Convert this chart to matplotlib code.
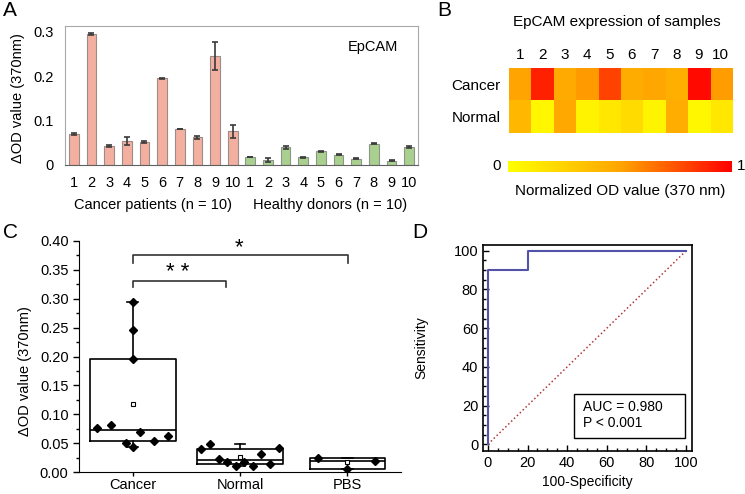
import numpy as np
import matplotlib
matplotlib.use('Agg')
import matplotlib.pyplot as plt
from matplotlib.colors import LinearSegmentedColormap
from matplotlib.patches import Rectangle
from matplotlib.ticker import MultipleLocator, FormatStrFormatter
import matplotlib.transforms as mtransforms

plt.rcParams['font.family'] = ['Liberation Sans', 'DejaVu Sans']

# ---------------- data ----------------
sample_labels = ['1', '2', '3', '4', '5', '6', '7', '8', '9', '10']
cancer_od = [0.069, 0.295, 0.043, 0.053, 0.051, 0.195, 0.081, 0.062, 0.246, 0.076]
cancer_err = [0.002, 0.003, 0.002, 0.009, 0.002, 0.001, 0.001, 0.003, 0.032, 0.015]
healthy_od = [0.018, 0.011, 0.040, 0.017, 0.031, 0.023, 0.014, 0.048, 0.010, 0.041]
healthy_err = [0.001, 0.004, 0.003, 0.001, 0.001, 0.001, 0.001, 0.001, 0.001, 0.002]
pbs_od = [0.025, 0.006, 0.019]

heat_rows = ['Cancer', 'Normal']
heat_cancer = [0.50, 0.90, 0.47, 0.53, 0.80, 0.46, 0.49, 0.44, 0.97, 0.52]
heat_normal = [0.40, 0.05, 0.48, 0.07, 0.13, 0.20, 0.06, 0.45, 0.04, 0.13]

box_groups = ['Cancer', 'Normal', 'PBS']
cancer_jitter = [0.066, 0, 0, 0.2, -0.066, 0, -0.2, 0.33, 0, -0.33]
healthy_jitter = [0.04, -0.04, -0.36, -0.12, 0.2, -0.2, 0.28, -0.28, 0.12, 0.36]
pbs_jitter = [-0.27, 0, 0.26]

roc_fpr = [0, 0, 20, 20, 100]
roc_tpr = [0, 90, 90, 100, 100]
auc_text = 'AUC = 0.980'
p_text = 'P < 0.001'

# ---------------- figure ----------------
W, H = 745, 494
fig = plt.figure(figsize=(W / 100, H / 100), dpi=100)


def px_axes(x0, y0, x1, y1):
    return fig.add_axes([x0 / W, 1 - y1 / H, (x1 - x0) / W, (y1 - y0) / H])


def ftext(x, y, s, **kw):
    fig.text(x / W, 1 - y / H, s, **kw)


# ---------------- Panel A ----------------
axA = px_axes(65, 26, 418, 165)
n = len(cancer_od)
xc = np.arange(n)
xh = np.arange(n, 2 * n)
ekw = dict(ecolor='#3a3a3a', elinewidth=1.2, capsize=2, capthick=1.2)
axA.bar(xc, cancer_od, 0.55, yerr=cancer_err, color='#F3B0A0',
        edgecolor='#9b8c88', linewidth=0.8, error_kw=ekw)
axA.bar(xh, healthy_od, 0.55, yerr=healthy_err, color='#A9D08E',
        edgecolor='#8c958a', linewidth=0.8, error_kw=ekw)
axA.set_xlim(-0.5, 2 * n - 0.5)
axA.set_ylim(0, 0.313)
axA.set_xticks(np.r_[xc, xh])
axA.set_xticklabels(sample_labels * 2)
axA.set_yticks([0, 0.1, 0.2, 0.3])
axA.set_yticklabels(['0', '0.1', '0.2', '0.3'])
axA.tick_params(axis='x', length=0, labelsize=10.5, pad=8)
axA.tick_params(axis='y', length=0, labelsize=10.5, pad=8)
for s in ['top', 'right', 'left']:
    axA.spines[s].set_color('#a8a8a8')
axA.spines['bottom'].set_color('#606060')
axA.set_ylabel('ΔOD value (370nm)', fontsize=10.5)
axA.yaxis.set_label_coords(-0.113, 0.48)
trA = mtransforms.blended_transform_factory(axA.transData, axA.transAxes)
axA.text(np.mean(xc), -0.29, 'Cancer patients (n = 10)', transform=trA,
         ha='center', va='center', fontsize=10.5)
axA.text(np.mean(xh), -0.29, 'Healthy donors (n = 10)', transform=trA,
         ha='center', va='center', fontsize=10.5)
axA.text(0.873, 0.85, 'EpCAM', transform=axA.transAxes, ha='center',
         va='center', fontsize=10.5)

# ---------------- Panel B ----------------
cmap = LinearSegmentedColormap.from_list('yor', ['#FFFF00', '#FFA500', '#FF0000'])
axB = px_axes(509, 68, 732, 133)
heat = np.array([heat_cancer, heat_normal])
im = axB.imshow(heat, cmap=cmap, vmin=0, vmax=1, aspect='auto')
axB.xaxis.tick_top()
axB.set_xticks(range(len(sample_labels)))
axB.set_xticklabels(sample_labels)
axB.set_yticks(range(len(heat_rows)))
axB.set_yticklabels(heat_rows)
axB.tick_params(length=0, labelsize=11, pad=4)
axB.tick_params(axis='y', pad=6)
for s in axB.spines.values():
    s.set_visible(False)
ftext(617, 22, 'EpCAM expression of samples', ha='center', va='center', fontsize=11)

cax = px_axes(508, 161, 732, 172)
cb = fig.colorbar(im, cax=cax, orientation='horizontal')
cb.set_ticks([])
cb.outline.set_visible(False)
ftext(497, 166, '0', ha='center', va='center', fontsize=11)
ftext(741, 166, '1', ha='center', va='center', fontsize=11)
ftext(620, 191, 'Normalized OD value (370 nm)', ha='center', va='center', fontsize=11)

# ---------------- Panel C ----------------
axC = px_axes(79, 241, 401, 472)
groups = [cancer_od, healthy_od, pbs_od]
jitters = [cancer_jitter, healthy_jitter, pbs_jitter]
stats = []
for lab, vals in zip(box_groups, groups):
    s = np.sort(np.asarray(vals))
    h = len(s) // 2
    stats.append(dict(label=lab, med=np.median(s), q1=np.median(s[:h]),
                      q3=np.median(s[-h:]), whislo=s.min(), whishi=s.max(),
                      mean=s.mean(), fliers=[]))
axC.bxp(stats, positions=[1, 2, 3], widths=[0.8, 0.8, 0.7], showmeans=True,
        capwidths=0.1,
        boxprops=dict(color='black', linewidth=1.2),
        whiskerprops=dict(color='black', linewidth=1.2),
        capprops=dict(color='black', linewidth=1.2),
        medianprops=dict(color='black', linewidth=1.2),
        meanprops=dict(marker='s', markerfacecolor='white',
                       markeredgecolor='black', markersize=3.5,
                       markeredgewidth=0.8))
for i, (vals, jit) in enumerate(zip(groups, jitters)):
    axC.plot(np.add(i + 1, jit), vals, 'D', color='black', ms=4, zorder=5)
axC.set_xlim(0.5, 3.5)
axC.set_ylim(0, 0.40)
axC.yaxis.set_major_locator(MultipleLocator(0.05))
axC.yaxis.set_minor_locator(MultipleLocator(0.025))
axC.yaxis.set_major_formatter(FormatStrFormatter('%.2f'))
axC.set_xticks([1, 2, 3])
axC.set_xticklabels(box_groups)
axC.tick_params(which='major', direction='out', length=4, width=1, labelsize=10.5)
axC.tick_params(axis='x', which='major', length=3, pad=1)
axC.tick_params(which='minor', direction='out', length=2, width=1)
axC.spines['top'].set_visible(False)
axC.spines['right'].set_visible(False)
axC.set_ylabel('ΔOD value (370nm)', fontsize=10.5)
axC.yaxis.set_label_coords(-0.147, 0.437)
axC.plot([1, 1, 1.87, 1.87], [0.320, 0.331, 0.331, 0.320], color='#333333',
         lw=1.2, clip_on=False)
axC.text(1.42, 0.345, '* *', ha='center', va='center', fontsize=16)
axC.plot([1, 1, 3.01, 3.01], [0.362, 0.376, 0.376, 0.362], color='#333333',
         lw=1.2, clip_on=False)
axC.text(1.99, 0.388, '*', ha='center', va='center', fontsize=16, clip_on=False)

# ---------------- Panel D ----------------
axD = px_axes(483, 245, 692, 451)
axD.plot([0, 100], [0, 100], linestyle=':', color='#B03838', lw=1.1)
axD.plot(roc_fpr, roc_tpr, color='#5252A8', lw=1.5)
axD.set_xlim(-2.5, 103)
axD.set_ylim(-3.5, 103)
for ax_ in (axD.xaxis, axD.yaxis):
    ax_.set_major_locator(MultipleLocator(20))
    ax_.set_minor_locator(MultipleLocator(5))
axD.tick_params(which='major', direction='in', length=4, width=1, labelsize=10.5)
axD.tick_params(which='minor', direction='in', length=2.5, width=1)
for s in axD.spines.values():
    s.set_linewidth(1.2)
axD.set_xlabel('100-Specificity', fontsize=10)
axD.set_ylabel('Sensitivity', fontsize=10)
axD.yaxis.set_label_coords(-0.26, 0.5)
axD.add_patch(Rectangle((0.435, 0.063), 0.532, 0.214, transform=axD.transAxes,
                        fill=False, edgecolor='black', lw=1))
axD.text(0.478, 0.214, auc_text, transform=axD.transAxes, ha='left',
         va='center', fontsize=10)
axD.text(0.478, 0.136, p_text, transform=axD.transAxes, ha='left',
         va='center', fontsize=10)

# ---------------- panel letters ----------------
for (x, y, s) in [(3, 10, 'A'), (437, 10, 'B'), (3, 232, 'C'), (412, 232, 'D')]:
    ftext(x, y, s, ha='left', va='center', fontsize=15)

fig.savefig('out.png', dpi=100)
